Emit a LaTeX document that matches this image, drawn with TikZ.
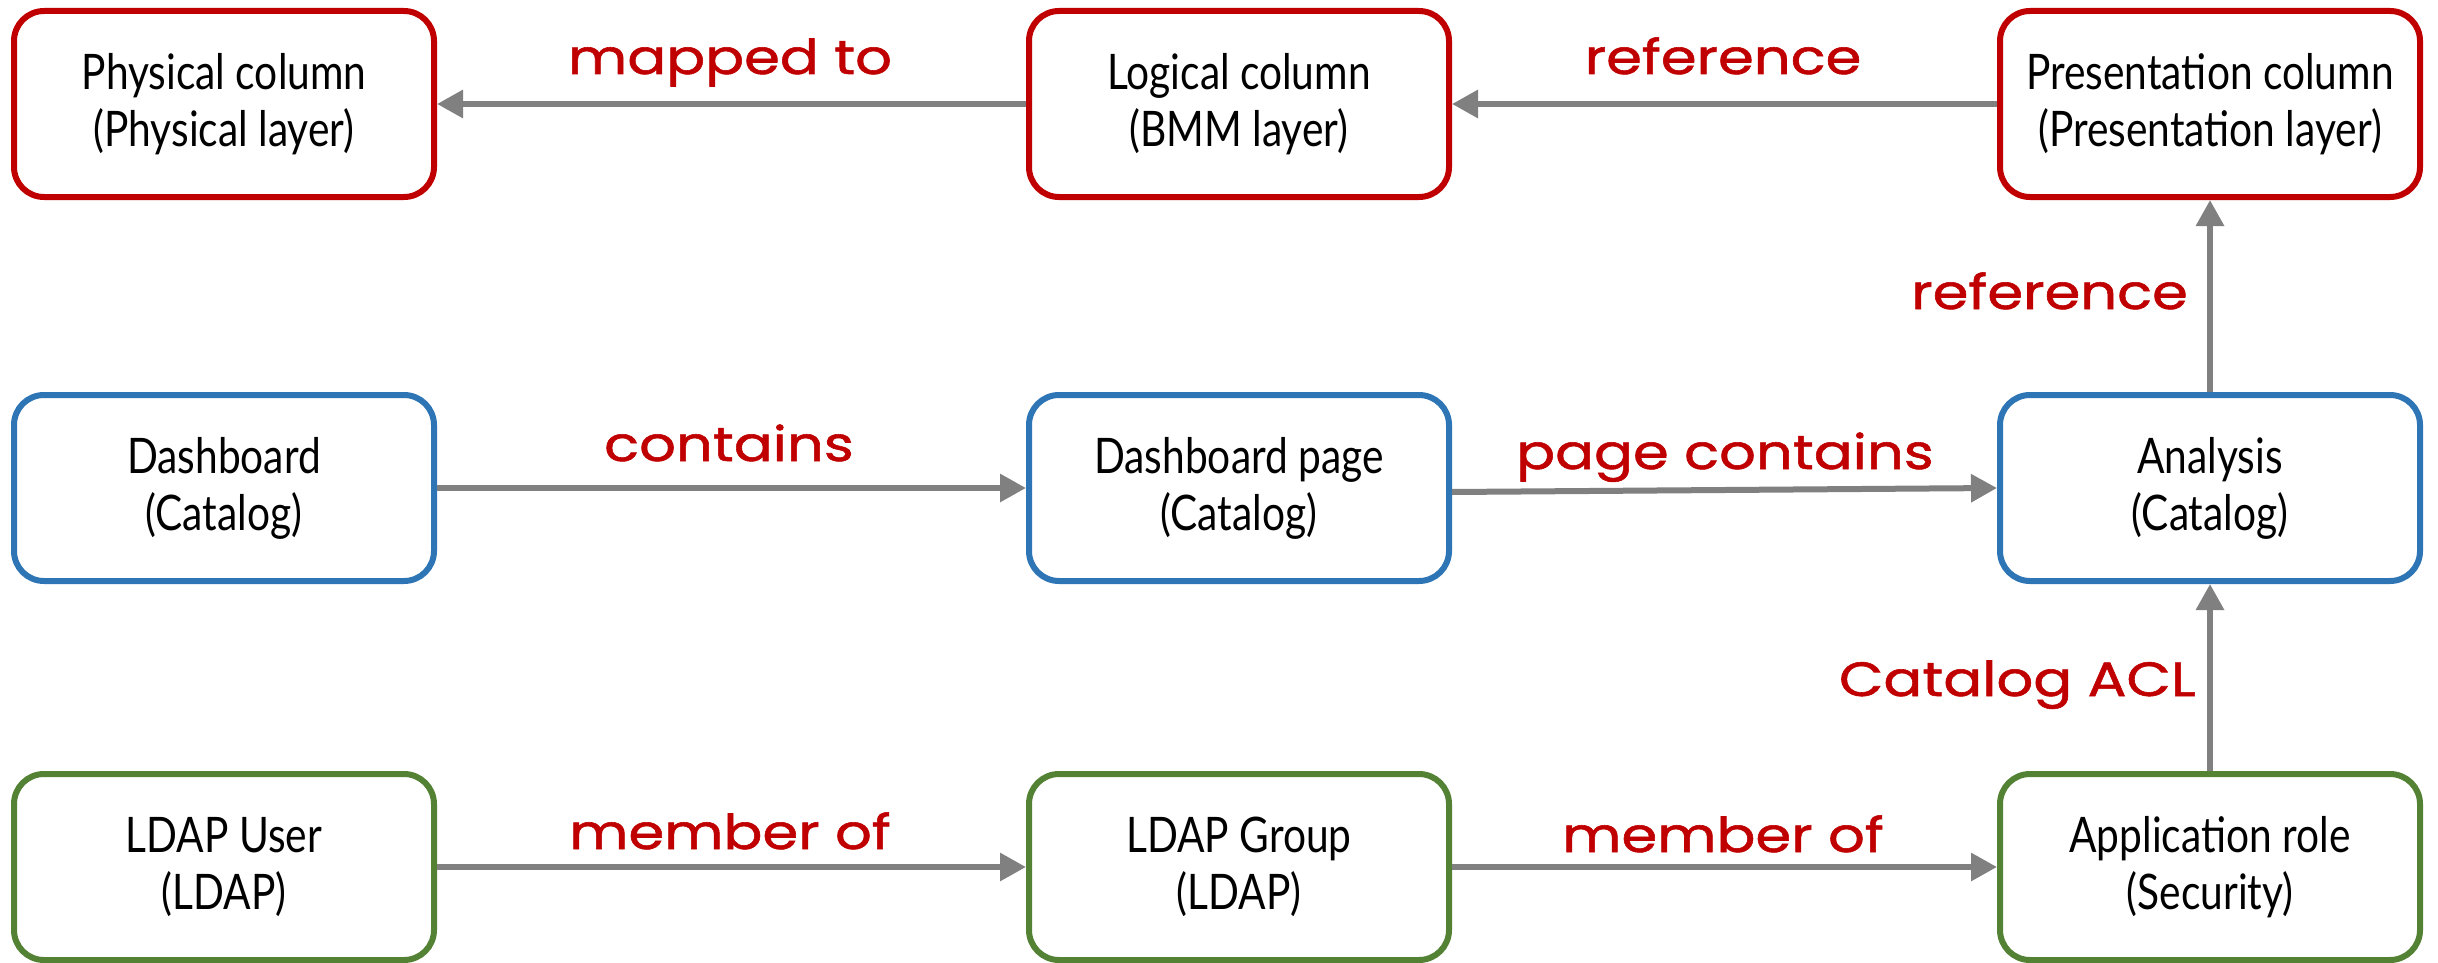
\documentclass[tikz,border=0pt]{standalone}
\usepackage{fontspec}
\setmainfont{Lato}
\newfontfamily\nodefontfam{Lato}[FakeStretch=0.83]
\newfontfamily\labelfontfam{Poppins}[FakeStretch=1.2,FakeBold=1.2]
\usetikzlibrary{arrows.meta}
\definecolor{boxred}{HTML}{C00000}
\definecolor{boxblue}{HTML}{2E75B6}
\definecolor{boxgreen}{HTML}{548235}
\definecolor{arrgray}{HTML}{808080}
\definecolor{lblred}{HTML}{C00000}
\tikzset{
  basebox/.style={draw, fill=white, rounded corners=30pt, line width=6pt,
    minimum width=420pt, minimum height=186pt, inner sep=0pt, align=center,
    font=\nodefontfam\fontsize{49}{57}\selectfont, text=black},
  redbox/.style={basebox, draw=boxred},
  bluebox/.style={basebox, draw=boxblue},
  greenbox/.style={basebox, draw=boxgreen},
  arr/.style={draw=arrgray, line width=6pt, -{Triangle[length=26pt,width=27pt]}},
  lbl/.style={text=lblred, inner sep=0pt, anchor=base, font=\labelfontfam\fontsize{48}{52}\selectfont}
}
\begin{document}
\begin{tikzpicture}[x=1pt,y=-1pt]
\useasboundingbox (0,0) rectangle (2438,963);
\fill[white] (0,0) rectangle (2438,963);
% nodes
\node[redbox] (phys) at (224,104) {Physical column\\(Physical layer)};
\node[redbox] (logi) at (1239,104) {Logical column\\(BMM layer)};
\node[redbox] (pres) at (2210,104) {Presentation column\\(Presentation layer)};
\node[bluebox] (dash) at (224,488) {Dashboard\\(Catalog)};
\node[bluebox] (dpage) at (1239,488) {Dashboard page\\(Catalog)};
\node[bluebox] (ana) at (2210,488) {Analysis\\(Catalog)};
\node[greenbox] (user) at (224,867) {LDAP User\\(LDAP)};
\node[greenbox] (group) at (1239,867) {LDAP Group\\(LDAP)};
\node[greenbox] (role) at (2210,867) {Application role\\(Security)};
% connectors
\draw[arr] (logi) -- (phys);
\draw[arr] (pres) -- (logi);
\draw[arr] (ana) -- (pres);
\draw[arr] (dash) -- (dpage);
\draw[arr] ([yshift=-4pt]dpage.east) -- (ana.west);
\draw[arr] (role) -- (ana);
\draw[arr] (user) -- (group);
\draw[arr] (group) -- (role);
% labels
\node[lbl] (l1) at (730,74) {mapped to};
\node[lbl] (l2) at (1723,74) {reference};
\node[lbl, anchor=base east] (l3) at (2188,309) {reference};
\node[lbl] (l4) at (729,461) {contains};
\node[lbl] (l5) at (1725,469) {page contains};
\node[lbl, anchor=base east] (l6) at (2196,696) {Catalog ACL};
\node[lbl] (l7) at (730,849) {member of};
\node[lbl] (l8) at (1723,852) {member of};
\end{tikzpicture}
\end{document}
